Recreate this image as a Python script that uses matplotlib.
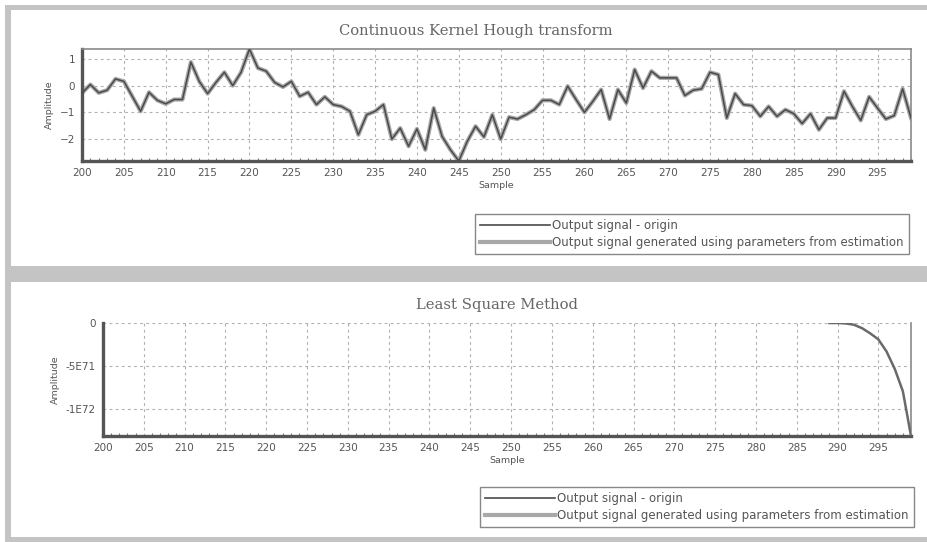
import matplotlib.pyplot as plt
from matplotlib.patches import Rectangle
from matplotlib.ticker import MultipleLocator

W, H = 927, 542

samples = list(range(200, 300))

# Output signal - origin (samples 200..299)
origin = [
    -0.28, 0.04, -0.27, -0.17, 0.25, 0.16, -0.40, -0.96, -0.25, -0.55,
    -0.68, -0.52, -0.52, 0.88, 0.16, -0.30, 0.12, 0.50, 0.00, 0.50,
    1.37, 0.66, 0.54, 0.12, -0.05, 0.16, -0.40, -0.25, -0.71, -0.42,
    -0.71, -0.78, -0.96, -1.84, -1.09, -0.96, -0.71, -2.00, -1.59, -2.27,
    -1.62, -2.40, -0.84, -1.90, -2.40, -2.82, -2.09, -1.52, -1.92, -1.09,
    -2.00, -1.18, -1.25, -1.09, -0.90, -0.55, -0.55, -0.71, -0.02, -0.52,
    -1.00, -0.59, -0.15, -1.25, -0.15, -0.65, 0.60, -0.09, 0.54, 0.29,
    0.29, 0.29, -0.37, -0.17, -0.12, 0.50, 0.41, -1.21, -0.30, -0.71,
    -0.75, -1.15, -0.78, -1.15, -0.90, -1.05, -1.42, -1.05, -1.65, -1.21,
    -1.21, -0.21, -0.78, -1.30, -0.42, -0.84, -1.25, -1.12, -0.12, -1.21,
]

# Kernel Hough estimate follows the origin signal
khough_est = list(origin)

# Least square estimate: visible part of the divergence (samples 289..299)
ls_samples = list(range(289, 300))
ls_est = [0.0, 0.0, -0.005e72, -0.02e72, -0.06e72, -0.12e72, -0.19e72,
          -0.33e72, -0.53e72, -0.79e72, -1.31e72]

top_yticks = [-2, -1, 0, 1]
bot_yticks = [0, -5e71, -1e72]
bot_yticklabels = ["0", "-5E71", "-1E72"]

labels = ["Output signal - origin",
          "Output signal generated using parameters from estimation"]

C_ORIG = "#4a4a4a"
C_EST = "#a8a8a8"
C_TXT = "#555555"


def px(x0, y0, x1, y1):
    return [x0 / W, 1 - y1 / H, (x1 - x0) / W, (y1 - y0) / H]


fig = plt.figure(figsize=(W / 100, H / 100), dpi=100)
fig.patch.set_facecolor("white")

# window frame and separator
fig.patches.append(Rectangle((5 / W, 0), 1, 1 - 5 / H, transform=fig.transFigure,
                             facecolor="#c4c4c4", edgecolor="none", zorder=-3))
for y0, y1 in [(10, 266), (282, 537)]:
    fig.patches.append(Rectangle((11 / W, 1 - y1 / H), 1, (y1 - y0) / H,
                                 transform=fig.transFigure,
                                 facecolor="white", edgecolor="none", zorder=-2))


def style_axis(ax, hide_top=False):
    ax.set_xlim(200, 299)
    ax.xaxis.set_major_locator(MultipleLocator(5))
    ax.xaxis.set_minor_locator(MultipleLocator(1))
    ax.tick_params(axis="both", which="major", labelsize=7.5, length=0,
                   pad=5, labelcolor=C_TXT)
    ax.tick_params(axis="x", which="minor", direction="in", length=2.5,
                   width=0.8, color="#777777")
    ax.grid(True, which="major", color="#b0b0b0", linestyle=(0, (2.5, 3)),
            linewidth=0.8)
    ax.set_axisbelow(True)
    for s in ["left", "bottom"]:
        ax.spines[s].set_linewidth(2.4)
        ax.spines[s].set_color("#555555")
    for s in ["top", "right"]:
        ax.spines[s].set_linewidth(1.2)
        ax.spines[s].set_color("#8a8a8a")
    if hide_top:
        ax.spines["top"].set_visible(False)
    ax.set_xlabel("Sample", fontsize=6.8, color=C_TXT, labelpad=2)
    ax.set_ylabel("Amplitude", fontsize=6.8, color=C_TXT, labelpad=4)


def add_legend(ax, handles, right, top):
    leg = ax.legend(handles, labels, loc="upper right",
                    bbox_to_anchor=(right / W, 1 - top / H),
                    bbox_transform=fig.transFigure, borderaxespad=0,
                    fontsize=8.5, handlelength=5.9, handletextpad=0.2,
                    labelspacing=0.3, fancybox=False, edgecolor="#888888",
                    framealpha=1, borderpad=0.45)
    for t in leg.get_texts():
        t.set_color(C_TXT)


legend_handles = [plt.Line2D([], [], color=C_ORIG, lw=1.2),
                  plt.Line2D([], [], color=C_EST, lw=3.0)]

# ---- top: Continuous Kernel Hough transform
ax1 = fig.add_axes(px(82, 49, 911, 161))
ax1.plot(samples, khough_est, color=C_EST, lw=3.0, zorder=2)
ax1.plot(samples, origin, color=C_ORIG, lw=1.1, zorder=3)
ax1.set_ylim(min(origin), max(origin))
ax1.set_yticks(top_yticks)
style_axis(ax1)
fig.text(476 / W, 1 - 31 / H, "Continuous Kernel Hough transform",
         family="DejaVu Serif", fontsize=10.6, color="#666666",
         ha="center", va="center")
add_legend(ax1, legend_handles, 909, 214)

# ---- bottom: Least Square Method
ax2 = fig.add_axes(px(103, 323, 911, 436))
ax2.plot(ls_samples, ls_est, color="#6a6a6a", lw=1.8, zorder=4)
ax2.set_ylim(min(ls_est), 0)
ax2.set_yticks(bot_yticks)
ax2.set_yticklabels(bot_yticklabels)
style_axis(ax2, hide_top=True)
fig.text(497 / W, 1 - 305 / H, "Least Square Method",
         family="DejaVu Serif", fontsize=10.6, color="#666666",
         ha="center", va="center")
add_legend(ax2, legend_handles, 914, 487)

fig.savefig("out.png", dpi=100)
